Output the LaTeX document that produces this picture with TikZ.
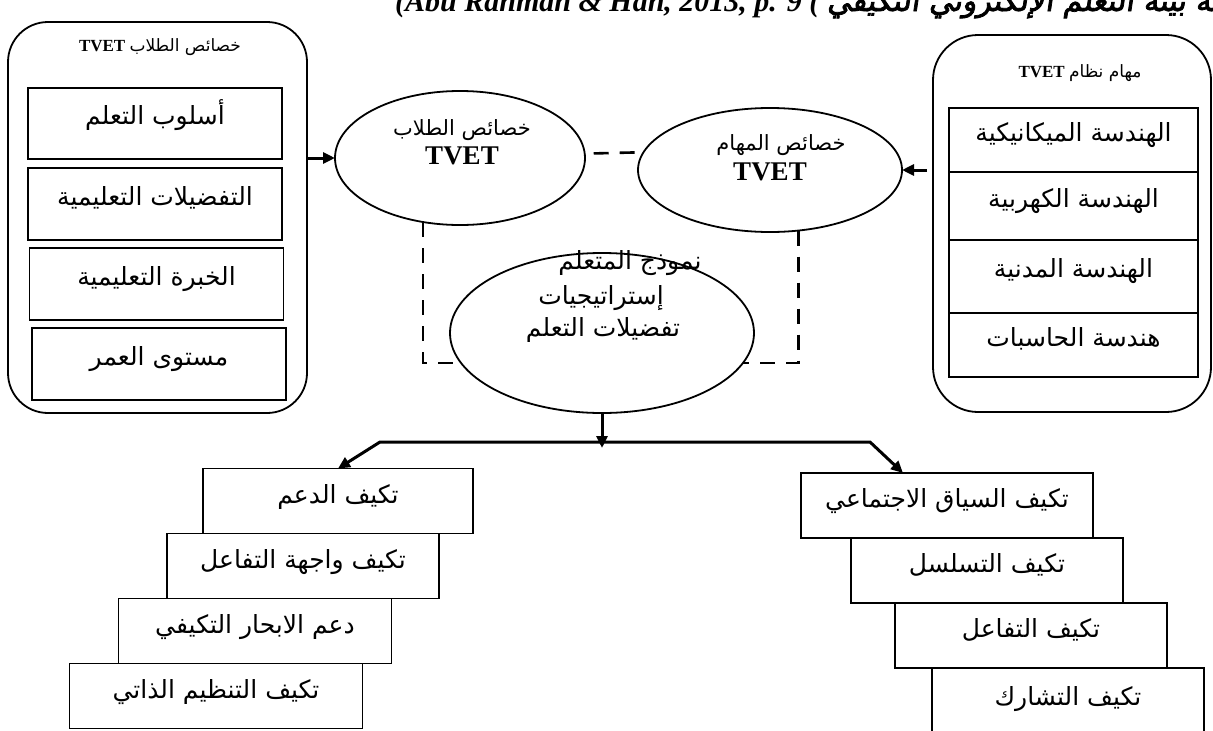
\documentclass[tikz,border=0pt]{standalone}
\usepackage{fontspec}
\setmainfont{Liberation Serif}
\newfontfamily\arabicfont[Script=Arabic]{DejaVu Sans}
\newfontfamily\arabictitle[Script=Arabic,FakeBold=2.5,FakeSlant=0.15]{DejaVu Sans}
\TeXXeTstate=1
\usepackage{tikz}
\usetikzlibrary{shapes.geometric, arrows.meta, positioning}
\newcommand{\artxt}[1]{{\arabicfont\beginR #1\endR}}
\newcommand{\artitle}[1]{{\arabictitle\mdseries\upshape\beginR #1\endR}}
\tikzset{
  outerbox/.style={rectangle, rounded corners=40pt, draw, line width=1.8pt, inner sep=0pt, outer sep=0pt},
  itembox/.style={rectangle, draw, line width=1.8pt, fill=white, inner sep=0pt, outer sep=0pt, minimum width=254pt, text height=17pt, text depth=15pt, font=\fontsize{25}{29}\selectfont},
  stackbox/.style={rectangle, draw, line width=1.8pt, fill=white, inner sep=0pt, outer sep=0pt, minimum height=65pt, text height=18pt, text depth=14pt, font=\fontsize{25}{29}\selectfont},
  featellipse/.style={ellipse, draw, line width=1.8pt, inner sep=0pt, outer sep=0pt},
  headtext/.style={inner sep=0pt, font=\fontsize{17}{20}\selectfont},
  elltext/.style={inner sep=0pt, font=\fontsize{21}{24}\selectfont},
  tvettext/.style={inner sep=0pt, font=\fontsize{27}{29}\selectfont\bfseries},
  midtext/.style={inner sep=0pt, font=\fontsize{25}{29}\selectfont},
  dashline/.style={line width=2.6pt, dash pattern=on 15pt off 11pt},
  arrow/.style={-{Triangle[length=12pt,width=11pt]}, line width=3pt}
}

\begin{document}
\begin{tikzpicture}[x=1pt, y=-1pt]
  \useasboundingbox (0,0) rectangle (1213,731);

  % caption line, cut by the top edge
  \node[anchor=base west, inner sep=0pt] (title) at (395,11) {\fontsize{30}{32}\selectfont\bfseries\itshape (Abu Rahman \& Han, 2013, p. 9 ( \artitle{تهيئة بيئة التعلم الإلكتروني التكيفي}};

  % learner side
  \node[outerbox, minimum width=299pt, minimum height=391pt] (stubox) at (157.5,217.5) {};
  \node[headtext] (stuhead) at (160,47) {\textbf{TVET} \artxt{خصائص الطلاب}};
  \node[itembox, minimum height=71pt] (stu1) at (155,123.5) {\artxt{أسلوب التعلم}};
  \node[itembox, minimum height=72pt] (stu2) at (155,204) {\artxt{التفضيلات التعليمية}};
  \node[itembox, minimum height=72pt] (stu3) at (156.5,284) {\artxt{الخبرة التعليمية}};
  \node[itembox, minimum height=72pt] (stu4) at (159,364) {\artxt{مستوى العمر}};

  % task side
  \node[outerbox, rounded corners=45pt, minimum width=278pt, minimum height=377pt] (taskbox) at (1072,223.5) {};
  \node[headtext] (taskhead) at (1080,73) {\textbf{TVET} \artxt{مهام نظام}};
  \node[itembox, minimum width=249pt, minimum height=64pt] (task1) at (1073.5,140) {\artxt{الهندسة الميكانيكية}};
  \node[itembox, minimum width=249pt, minimum height=68pt, below=0pt of task1] (task2) {\artxt{الهندسة الكهربية}};
  \node[itembox, minimum width=249pt, minimum height=73pt, below=0pt of task2] (task3) {\artxt{الهندسة المدنية}};
  \node[itembox, minimum width=249pt, minimum height=64pt, below=0pt of task3] (task4) {\artxt{هندسة الحاسبات}};

  % model ellipses
  \node[featellipse, minimum width=250pt, minimum height=134pt] (stuell) at (460,158) {};
  \node[elltext] (stulbl) at (462,130) {\artxt{خصائص الطلاب}};
  \node[tvettext] (stutvet) at (462,156) {TVET};

  \node[featellipse, minimum width=264pt, minimum height=124pt] (taskell) at (770,170) {};
  \node[elltext] (tasklbl) at (781,145) {\artxt{خصائص المهام}};
  \node[tvettext] (tasktvet) at (770,172) {TVET};

  \node[featellipse, minimum width=304pt, minimum height=160pt] (midell) at (602,333) {};
  \node[midtext] (midlbl1) at (630,263) {\artxt{نموذج المتعلم}};
  \node[midtext] (midlbl2) at (601,298) {\artxt{إستراتيجيات}};
  \node[midtext] (midlbl3) at (603,330) {\artxt{تفضيلات التعلم}};

  \draw[dashline, dash phase=17pt] (stuell.2) -- (taskell.172);
  \draw[dashline] (stuell.240) |- (midell.192);
  \draw[dashline] (taskell.295) |- (midell.-12);

  \draw[arrow] (stuell.west -| stubox.east) -- (stuell.west);
  \draw[arrow, shorten <=6pt] (taskell.east -| taskbox.west) -- (taskell.east);

  % adaptation ladders
  \node[stackbox, minimum width=270pt] (lad1) at (338,501) {\artxt{تكيف الدعم}};
  \node[stackbox, minimum width=272pt, below=0pt of lad1, xshift=-35pt] (lad2) {\artxt{تكيف واجهة التفاعل}};
  \node[stackbox, minimum width=273pt, below=0pt of lad2, xshift=-48pt] (lad3) {\artxt{دعم الابحار التكيفي}};
  \node[stackbox, minimum width=293pt, below=0pt of lad3, xshift=-39pt] (lad4) {\artxt{تكيف التنظيم الذاتي}};

  \node[stackbox, minimum width=292pt] (rad1) at (947,505.5) {\artxt{تكيف السياق الاجتماعي}};
  \node[stackbox, minimum width=272pt, below=0pt of rad1, xshift=40pt] (rad2) {\artxt{تكيف التسلسل}};
  \node[stackbox, minimum width=272pt, below=0pt of rad2, xshift=44pt] (rad3) {\artxt{تكيف التفاعل}};
  \node[stackbox, minimum width=272pt, minimum height=70pt, below=0pt of rad3, xshift=37pt] (rad4) {\artxt{تكيف التشارك}};

  \coordinate (busl) at (380,442);
  \coordinate (busr) at (870,442);
  \coordinate (busm) at (midell.south |- busl);
  \draw[arrow] (midell.south) -- ([yshift=-6pt]busm);
  \draw[arrow] (busm) -- (busl) -- (lad1.north);
  \draw[arrow] (busm) -- (busr) -- ([xshift=-44pt]rad1.north);
\end{tikzpicture}
\end{document}
